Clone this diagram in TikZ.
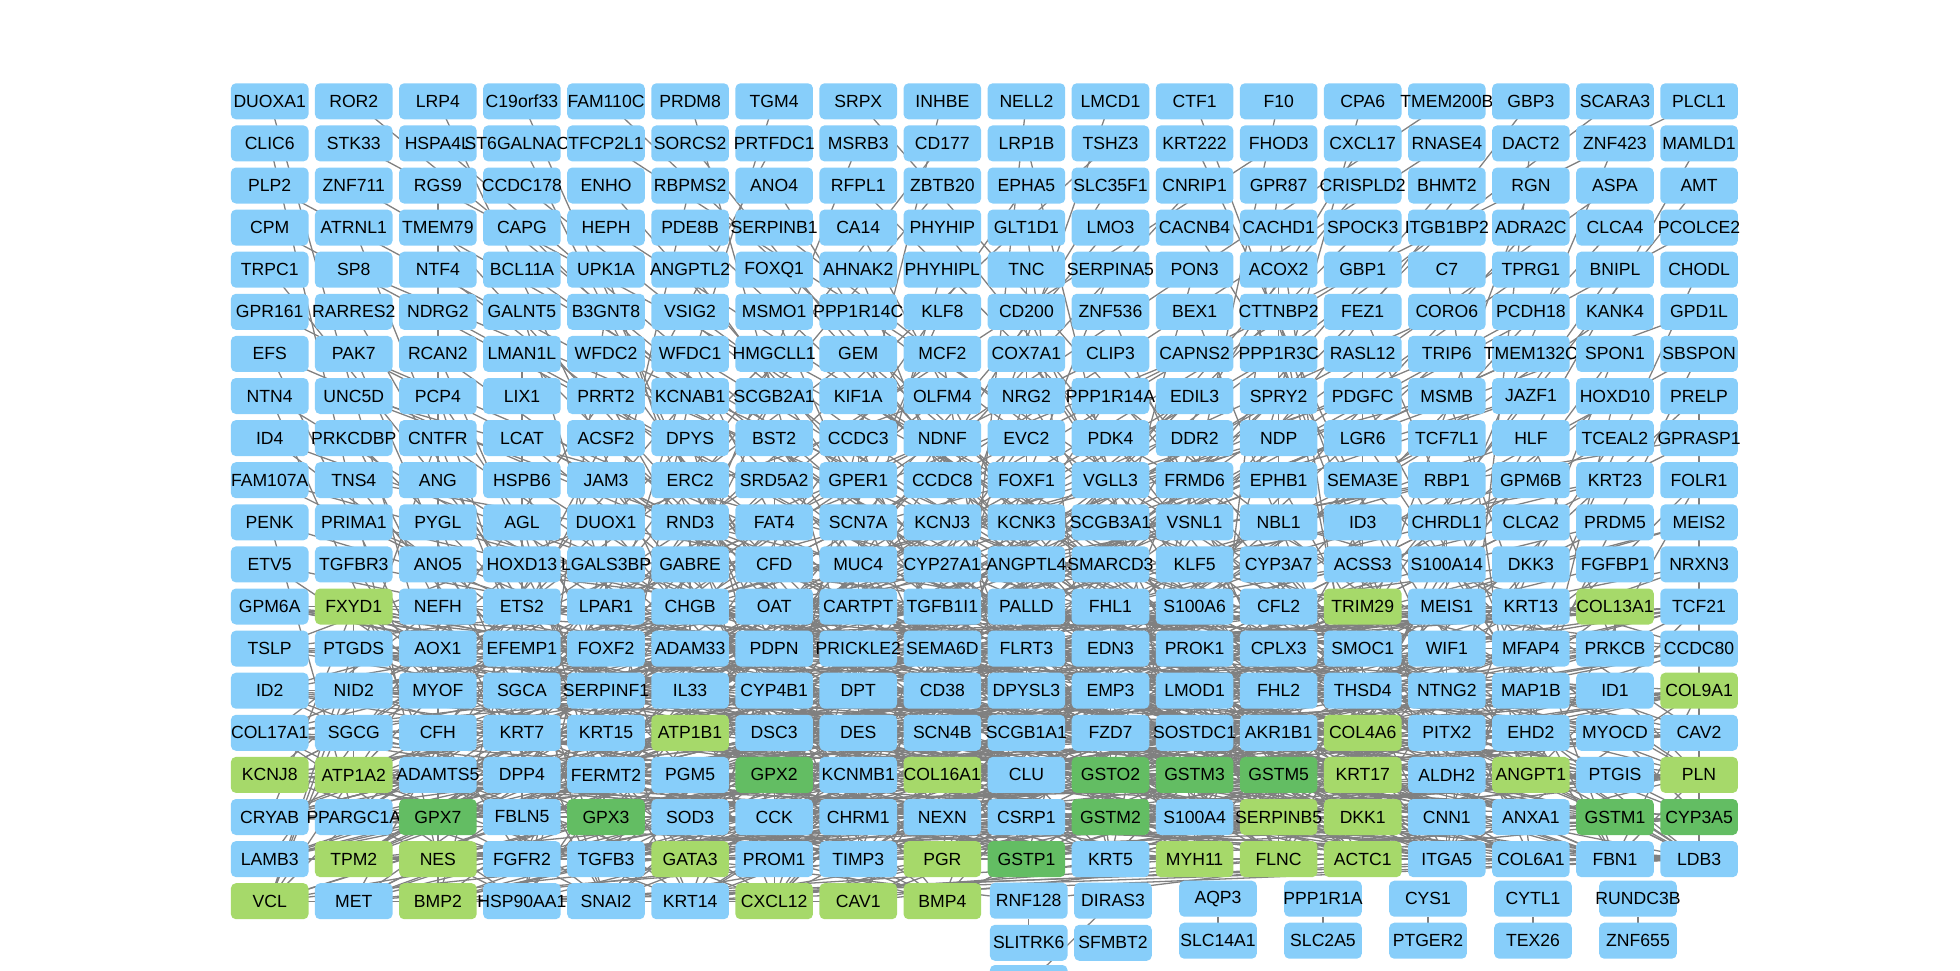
\documentclass[tikz,border=0pt]{standalone}
\usepackage{fontspec}
\setmainfont{Liberation Sans}
\pgfdeclarelayer{edges}
\pgfsetlayers{edges,main}

\definecolor{nodeblue}{RGB}{135,206,250}
\definecolor{nodelime}{RGB}{166,217,106}
\definecolor{nodegreen}{RGB}{99,189,99}
\definecolor{edgegray}{RGB}{128,128,128}

\tikzset{
  gene/.style={rectangle, rounded corners=5pt, minimum width=77.6pt,
    minimum height=36pt, inner sep=0pt, font=\fontsize{17.6}{21}\selectfont,
    text=black},
  link/.style={draw=edgegray, line width=1.3pt},
}

% fill colour per gene symbol (default: blue)
\newcommand\setgenefill[2]{%
  \foreach \g in {#2}{\expandafter\xdef\csname genefill-\g\endcsname{#1}}}

\begin{document}
\setgenefill{nodelime}{FXYD1,TRIM29,COL13A1,COL9A1,ATP1B1,COL4A6,KCNJ8,ATP1A2,
  COL16A1,KRT17,ANGPT1,PLN,SERPINB5,DKK1,TPM2,NES,GATA3,PGR,MYH11,FLNC,ACTC1,
  VCL,BMP2,CXCL12,CAV1,BMP4}
\setgenefill{nodegreen}{GPX2,GSTO2,GSTM3,GSTM5,GPX7,GPX3,GSTM2,GSTM1,CYP3A5,GSTP1}
\begin{tikzpicture}[x=1pt,y=-1pt]
\useasboundingbox (0,0) rectangle (1960,970);

% main grid of genes, row by row
\foreach \row [count=\r] in {
 {DUOXA1,ROR2,LRP4,C19orf33,FAM110C,PRDM8,TGM4,SRPX,INHBE,NELL2,LMCD1,CTF1,F10,CPA6,TMEM200B,GBP3,SCARA3,PLCL1},
 {CLIC6,STK33,HSPA4L,ST6GALNAC1,TFCP2L1,SORCS2,PRTFDC1,MSRB3,CD177,LRP1B,TSHZ3,KRT222,FHOD3,CXCL17,RNASE4,DACT2,ZNF423,MAMLD1},
 {PLP2,ZNF711,RGS9,CCDC178,ENHO,RBPMS2,ANO4,RFPL1,ZBTB20,EPHA5,SLC35F1,CNRIP1,GPR87,CRISPLD2,BHMT2,RGN,ASPA,AMT},
 {CPM,ATRNL1,TMEM79,CAPG,HEPH,PDE8B,SERPINB1,CA14,PHYHIP,GLT1D1,LMO3,CACNB4,CACHD1,SPOCK3,ITGB1BP2,ADRA2C,CLCA4,PCOLCE2},
 {TRPC1,SP8,NTF4,BCL11A,UPK1A,ANGPTL2,FOXQ1,AHNAK2,PHYHIPL,TNC,SERPINA5,PON3,ACOX2,GBP1,C7,TPRG1,BNIPL,CHODL},
 {GPR161,RARRES2,NDRG2,GALNT5,B3GNT8,VSIG2,MSMO1,PPP1R14C,KLF8,CD200,ZNF536,BEX1,CTTNBP2,FEZ1,CORO6,PCDH18,KANK4,GPD1L},
 {EFS,PAK7,RCAN2,LMAN1L,WFDC2,WFDC1,HMGCLL1,GEM,MCF2,COX7A1,CLIP3,CAPNS2,PPP1R3C,RASL12,TRIP6,TMEM132C,SPON1,SBSPON},
 {NTN4,UNC5D,PCP4,LIX1,PRRT2,KCNAB1,SCGB2A1,KIF1A,OLFM4,NRG2,PPP1R14A,EDIL3,SPRY2,PDGFC,MSMB,JAZF1,HOXD10,PRELP},
 {ID4,PRKCDBP,CNTFR,LCAT,ACSF2,DPYS,BST2,CCDC3,NDNF,EVC2,PDK4,DDR2,NDP,LGR6,TCF7L1,HLF,TCEAL2,GPRASP1},
 {FAM107A,TNS4,ANG,HSPB6,JAM3,ERC2,SRD5A2,GPER1,CCDC8,FOXF1,VGLL3,FRMD6,EPHB1,SEMA3E,RBP1,GPM6B,KRT23,FOLR1},
 {PENK,PRIMA1,PYGL,AGL,DUOX1,RND3,FAT4,SCN7A,KCNJ3,KCNK3,SCGB3A1,VSNL1,NBL1,ID3,CHRDL1,CLCA2,PRDM5,MEIS2},
 {ETV5,TGFBR3,ANO5,HOXD13,LGALS3BP,GABRE,CFD,MUC4,CYP27A1,ANGPTL4,SMARCD3,KLF5,CYP3A7,ACSS3,S100A14,DKK3,FGFBP1,NRXN3},
 {GPM6A,FXYD1,NEFH,ETS2,LPAR1,CHGB,OAT,CARTPT,TGFB1I1,PALLD,FHL1,S100A6,CFL2,TRIM29,MEIS1,KRT13,COL13A1,TCF21},
 {TSLP,PTGDS,AOX1,EFEMP1,FOXF2,ADAM33,PDPN,PRICKLE2,SEMA6D,FLRT3,EDN3,PROK1,CPLX3,SMOC1,WIF1,MFAP4,PRKCB,CCDC80},
 {ID2,NID2,MYOF,SGCA,SERPINF1,IL33,CYP4B1,DPT,CD38,DPYSL3,EMP3,LMOD1,FHL2,THSD4,NTNG2,MAP1B,ID1,COL9A1},
 {COL17A1,SGCG,CFH,KRT7,KRT15,ATP1B1,DSC3,DES,SCN4B,SCGB1A1,FZD7,SOSTDC1,AKR1B1,COL4A6,PITX2,EHD2,MYOCD,CAV2},
 {KCNJ8,ATP1A2,ADAMTS5,DPP4,FERMT2,PGM5,GPX2,KCNMB1,COL16A1,CLU,GSTO2,GSTM3,GSTM5,KRT17,ALDH2,ANGPT1,PTGIS,PLN},
 {CRYAB,PPARGC1A,GPX7,FBLN5,GPX3,SOD3,CCK,CHRM1,NEXN,CSRP1,GSTM2,S100A4,SERPINB5,DKK1,CNN1,ANXA1,GSTM1,CYP3A5},
 {LAMB3,TPM2,NES,FGFR2,TGFB3,GATA3,PROM1,TIMP3,PGR,GSTP1,KRT5,MYH11,FLNC,ACTC1,ITGA5,COL6A1,FBN1,LDB3},
 {VCL,MET,BMP2,HSP90AA1,SNAI2,KRT14,CXCL12,CAV1,BMP4}}{
  \foreach \name [count=\c] in \row {
    \ifcsname genefill-\name\endcsname
      \edef\fc{\csname genefill-\name\endcsname}%
    \else
      \def\fc{nodeblue}%
    \fi
    \pgfmathsetmacro\gx{269.7+(\c-1)*84.08}
    \pgfmathsetmacro\gy{101.3+(\r-1)*42.1}
    \node[gene, fill=\fc] (n-\r-\c) at (\gx,\gy) {\makebox[0pt]{\name}};
  }
}

% small separate components below the grid
\node[gene, fill=nodeblue] (rnf) at (1028.7,900.7) {\makebox[0pt]{RNF128}};
\node[gene, fill=nodeblue] (diras) at (1113,900.7) {\makebox[0pt]{DIRAS3}};
\node[gene, fill=nodeblue] (slitrk) at (1028.7,942.8) {\makebox[0pt]{SLITRK6}};
\node[gene, fill=nodeblue] (sfmbt) at (1113,942.8) {\makebox[0pt]{SFMBT2}};
\node[gene, fill=nodeblue] (tail) at (1028.7,983) {};
\node[gene, fill=nodeblue] (aqp) at (1218,898.7) {\makebox[0pt]{AQP3}};
\node[gene, fill=nodeblue] (slc14) at (1218,940.7) {\makebox[0pt]{SLC14A1}};
\node[gene, fill=nodeblue] (ppp) at (1323,898.7) {\makebox[0pt]{PPP1R1A}};
\node[gene, fill=nodeblue] (slc2) at (1323,940.7) {\makebox[0pt]{SLC2A5}};
\node[gene, fill=nodeblue] (cys) at (1428,898.7) {\makebox[0pt]{CYS1}};
\node[gene, fill=nodeblue] (ptger) at (1428,940.7) {\makebox[0pt]{PTGER2}};
\node[gene, fill=nodeblue] (cytl) at (1533,898.7) {\makebox[0pt]{CYTL1}};
\node[gene, fill=nodeblue] (tex) at (1533,940.7) {\makebox[0pt]{TEX26}};
\node[gene, fill=nodeblue] (rundc) at (1638,898.7) {\makebox[0pt]{RUNDC3B}};
\node[gene, fill=nodeblue] (znf) at (1638,940.7) {\makebox[0pt]{ZNF655}};

\begin{pgfonlayer}{edges}
% interaction edges of the grid
\pgfmathsetseed{2718}
\foreach \r in {1,...,20}{
  \foreach \c in {1,...,18}{
    \pgfmathtruncatemacro\present{(\r<20 || \c<10) ? 1 : 0}
    \ifnum\present=1
      \pgfmathtruncatemacro\k{\r<7 ? 1 : (\r<13 ? 2 : 4)}
      \foreach \i in {1,...,\k}{
        \ifnum\r<7
          \pgfmathrandominteger{\tr}{15}{20}\pgfmathrandominteger{\tc}{3}{16}%
        \else\ifnum\r<13
          \pgfmathrandominteger{\tr}{14}{20}\pgfmathrandominteger{\tc}{1}{18}%
        \else
          \pgfmathrandominteger{\tr}{13}{20}\pgfmathrandominteger{\tc}{1}{18}%
        \fi\fi
        \pgfmathtruncatemacro\tr{(\tr==20 && \tc>9) ? 19 : \tr}
        \draw[link] (n-\r-\c.center) -- (n-\tr-\tc.center);
      }
    \fi
  }
}
% edges of the separate components
\draw[link] (rnf) -- (n-19-6);
\draw[link] (rnf) -- (n-19-14);
\draw[link] (rnf) -- (slitrk);
\draw[link] (diras.center) -- (tail.center);
\draw[link] (aqp) -- (slc14);
\draw[link] (ppp) -- (slc2);
\draw[link] (cys) -- (ptger);
\draw[link] (cytl) -- (tex);
\draw[link] (rundc) -- (znf);
\end{pgfonlayer}
\end{tikzpicture}
\end{document}
